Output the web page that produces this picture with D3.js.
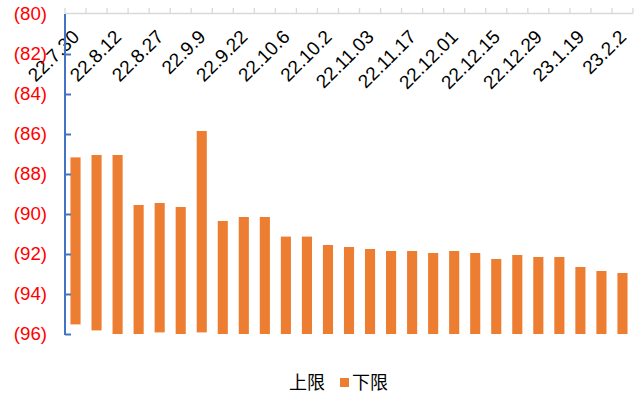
<!DOCTYPE html>
<html>
<head>
<meta charset="utf-8">
<script src="https://cdn.jsdelivr.net/npm/d3@7/dist/d3.min.js"></script>
<style>
  html, body { margin: 0; padding: 0; background: #fff; }
  svg { display: block; }
</style>
</head>
<body>
<svg id="chart" width="643" height="394"></svg>
<script>
// ---- data ----
const tickLabels = ["22.7.30","22.8.12","22.8.27","22.9.9","22.9.22","22.10.6","22.10.2",
                    "22.11.03","22.11.17","22.12.01","22.12.15","22.12.29","23.1.19","23.2.2"];
// upper limit (上限) and lower limit (下限) of each floating bar
const upperValues = [-87.17,-87.05,-87.05,-89.55,-89.45,-89.65,-85.85,-90.35,-90.15,-90.15,
                     -91.13,-91.13,-91.55,-91.65,-91.75,-91.85,-91.85,-91.95,-91.85,-91.95,
                     -92.25,-92.05,-92.15,-92.15,-92.65,-92.85,-92.95];
const lowerValues = [-95.52,-95.82,-96,-96,-95.92,-96,-95.92,-96,-96,-96,
                     -96,-96,-96,-96,-96,-96,-96,-96,-96,-96,
                     -96,-96,-96,-96,-96,-96,-96];
const yTicks = [-80,-82,-84,-86,-88,-90,-92,-94,-96];
const seriesNames = ["上限","下限"];

// ---- chart ----
const svg = d3.select("#chart");
const mLeft = 65, mRight = 633, mTop = 14, mBottom = 334;
const idx = d3.range(upperValues.length);

const x = d3.scaleBand().domain(idx).range([mLeft, mRight]).paddingInner(0.52).paddingOuter(0.26);
const xb = d3.scaleBand().domain(idx).range([mLeft, mRight]).padding(0);
const y = d3.scaleLinear().domain([-96, -80]).range([mBottom, mTop]);

const fontLatin = "'Liberation Sans', Arial, sans-serif";
const fontCJK = "'Noto Sans CJK SC', 'Liberation Sans', sans-serif";

// bars
svg.append("g").selectAll("rect").data(idx).join("rect")
  .attr("x", i => x(i))
  .attr("width", x.bandwidth())
  .attr("y", i => y(upperValues[i]))
  .attr("height", i => y(lowerValues[i]) - y(upperValues[i]))
  .attr("fill", "#ED7D31");

// top category axis line with boundary ticks
const boundaries = idx.map(i => xb(i)).concat([mRight]);
const topG = svg.append("g");
topG.append("line").attr("x1", mLeft).attr("x2", mRight).attr("y1", mTop - 0.5).attr("y2", mTop - 0.5)
  .attr("stroke", "#D9D9D9").attr("stroke-width", 1.3);
topG.selectAll("line.tk").data(boundaries).join("line").attr("class", "tk")
  .attr("x1", d => d).attr("x2", d => d).attr("y1", mTop - 0.5).attr("y2", mTop - 6)
  .attr("stroke", "#D9D9D9").attr("stroke-width", 1.3);

// category labels (every other category)
topG.selectAll("text").data(tickLabels).join("text")
  .attr("transform", (d, k) => `translate(${x(k * 2) + x.bandwidth() / 2 + 5},${38}) rotate(-45)`)
  .attr("text-anchor", "end")
  .attr("font-family", fontLatin)
  .attr("font-size", 19)
  .attr("fill", "#000")
  .text(d => d);

// value axis (left) with red parenthesised labels
const yAxis = d3.axisLeft(y).tickValues(yTicks).tickSize(-6).tickPadding(18)
  .tickFormat(v => "(" + Math.abs(v) + ")");
const yg = svg.append("g").attr("transform", `translate(${mLeft},0)`).call(yAxis);
yg.select(".domain").remove();
yg.append("line").attr("x1", 0).attr("x2", 0).attr("y1", mTop).attr("y2", mBottom + 1)
  .attr("stroke", "#4472C4").attr("stroke-width", 2);
yg.selectAll(".tick line").attr("stroke", "#4472C4").attr("stroke-width", 2)
  .attr("display", d => d === -80 ? "none" : null);
yg.selectAll(".tick text").attr("fill", "#FF0000").attr("font-family", fontLatin)
  .attr("font-size", 18.67);

// legend
const lg = svg.append("g");
lg.append("text").attr("x", 289).attr("y", 389).attr("font-family", fontCJK).attr("font-size", 18)
  .attr("fill", "#000").text(seriesNames[0]);
lg.append("rect").attr("x", 340).attr("y", 378).attr("width", 9).attr("height", 9).attr("fill", "#ED7D31");
lg.append("text").attr("x", 352).attr("y", 389).attr("font-family", fontCJK).attr("font-size", 18)
  .attr("fill", "#000").text(seriesNames[1]);
</script>
</body>
</html>
